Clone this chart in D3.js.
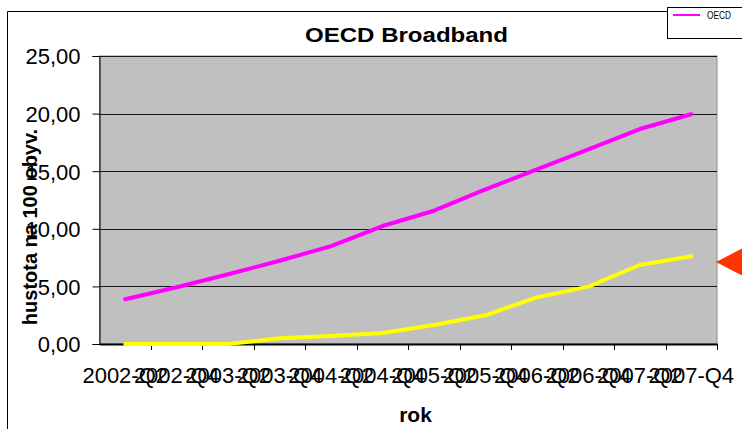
<!DOCTYPE html>
<html>
<head>
<meta charset="utf-8">
<script src="https://cdn.jsdelivr.net/npm/d3@7"></script>
<style>
  body { margin: 0; background: #fff; }
  text { font-family: "Liberation Sans", Arial, sans-serif; }
</style>
</head>
<body>
<script>
var categories = ['2002-Q2', '2002-Q4', '2003-Q2', '2003-Q4', '2004-Q2', '2004-Q4',
                  '2005-Q2', '2005-Q4', '2006-Q2', '2006-Q4', '2007-Q2', '2007-Q4'];
var oecdValues = [3.88, 4.92, 6.05, 7.23, 8.50, 10.24, 11.57, 13.43, 15.16, 16.90, 18.66, 19.94];
var secondValues = [0, 0, 0, 0.49, 0.69, 0.95, 1.65, 2.49, 4.05, 4.98, 6.86, 7.61];
var yTicks = [0, 5, 10, 15, 20, 25];
var legendNames = ['OECD'];

var W = 742, H = 429;
var plot = { left: 99.5, right: 717, top: 56, bottom: 344 };

var svg = d3.select('body').append('svg')
    .attr('width', W)
    .attr('height', H);

// okraj grafu
svg.append('path')
    .attr('d', 'M7.5,' + H + 'V11.5H' + W)
    .attr('fill', 'none')
    .attr('stroke', '#000');

var x = d3.scaleBand()
    .domain(categories)
    .range([plot.left, plot.right])
    .paddingInner(0)
    .paddingOuter(0);

var y = d3.scaleLinear()
    .domain([0, 25])
    .range([plot.bottom, plot.top]);

// plocha grafu
svg.append('rect')
    .attr('x', plot.left)
    .attr('y', plot.top)
    .attr('width', plot.right - plot.left)
    .attr('height', plot.bottom - plot.top)
    .attr('fill', '#c0c0c0')
    .attr('stroke', '#8c8c8c');

// mrizka
svg.selectAll('.grid')
    .data(yTicks.slice(1))
    .enter()
    .append('line')
    .attr('class', 'grid')
    .attr('x1', plot.left)
    .attr('x2', plot.right)
    .attr('y1', function (d) { return Math.round(y(d)) + 0.5; })
    .attr('y2', function (d) { return Math.round(y(d)) + 0.5; })
    .attr('stroke', '#1a1a1a');

// osa y
var yAxis = svg.append('g')
    .attr('transform', 'translate(' + plot.left + ',0)')
    .call(d3.axisLeft(y)
        .tickValues(yTicks)
        .tickSize(7)
        .tickPadding(12)
        .tickFormat(function (d) { return d3.format('.2f')(d).replace('.', ','); }));
yAxis.select('.domain').attr('stroke', '#000');
yAxis.selectAll('.tick line').attr('stroke', '#000');
yAxis.selectAll('text')
    .attr('fill', '#000')
    .style('font-size', '22px')
    .attr('dy', '0.36em');

// osa x
var xAxis = svg.append('g')
    .attr('transform', 'translate(0,' + plot.bottom + ')')
    .call(d3.axisBottom(x).tickSize(0).tickPadding(23));
xAxis.select('.domain').attr('stroke', '#000').attr('stroke-width', 2);
xAxis.selectAll('text')
    .attr('fill', '#000')
    .style('font-size', '22px');

// znacky mezi kategoriemi
svg.selectAll('.xtick')
    .data(categories)
    .enter()
    .append('line')
    .attr('class', 'xtick')
    .attr('x1', function (d) { return Math.round(x(d) + x.bandwidth()) + 0.5; })
    .attr('x2', function (d) { return Math.round(x(d) + x.bandwidth()) + 0.5; })
    .attr('y1', plot.bottom)
    .attr('y2', plot.bottom + 6)
    .attr('stroke', '#000');

var line = d3.line()
    .x(function (d, i) { return x(categories[i]) + x.bandwidth() / 2; })
    .y(function (d) { return y(d); });

svg.append('path')
    .datum(secondValues)
    .attr('d', line)
    .attr('fill', 'none')
    .attr('stroke', '#ffff00')
    .attr('stroke-width', 4)
    .attr('stroke-linejoin', 'round')
    .attr('stroke-linecap', 'round');

svg.append('path')
    .datum(oecdValues)
    .attr('d', line)
    .attr('fill', 'none')
    .attr('stroke', '#ff00ff')
    .attr('stroke-width', 4)
    .attr('stroke-linejoin', 'round')
    .attr('stroke-linecap', 'round');

// nadpisy
svg.append('text')
    .attr('x', 406.5)
    .attr('y', 41.5)
    .attr('text-anchor', 'middle')
    .attr('textLength', 203)
    .attr('lengthAdjust', 'spacingAndGlyphs')
    .style('font-size', '20px')
    .style('font-weight', 'bold')
    .text('OECD Broadband');

svg.append('text')
    .attr('x', 415.5)
    .attr('y', 422)
    .attr('text-anchor', 'middle')
    .style('font-size', '21px')
    .style('font-weight', 'bold')
    .text('rok');

svg.append('text')
    .attr('transform', 'translate(37,227) rotate(-90)')
    .attr('text-anchor', 'middle')
    .style('font-size', '20px')
    .style('font-weight', 'bold')
    .text('hustota na 100 obyv.');

// legenda
var legend = svg.append('g')
    .attr('transform', 'translate(667,7)');
legend.append('rect')
    .attr('x', 0.5)
    .attr('y', 0.5)
    .attr('width', 100)
    .attr('height', 31)
    .attr('fill', '#fff')
    .attr('stroke', '#000');
legend.selectAll('.leg')
    .data(legendNames)
    .enter()
    .append('g')
    .attr('class', 'leg')
    .each(function (d) {
        var g = d3.select(this);
        g.append('line')
            .attr('x1', 6).attr('x2', 33)
            .attr('y1', 8).attr('y2', 8)
            .attr('stroke', '#ff00ff')
            .attr('stroke-width', 2);
        g.append('text')
            .attr('x', 40)
            .attr('y', 12)
            .attr('textLength', 24)
            .attr('lengthAdjust', 'spacingAndGlyphs')
            .style('font-size', '10px')
            .text(d);
    });

// cervena sipka vpravo
svg.append('path')
    .attr('d', 'M716,262L745,247L745,277Z')
    .attr('fill', '#ff3300');
</script>
</body>
</html>
